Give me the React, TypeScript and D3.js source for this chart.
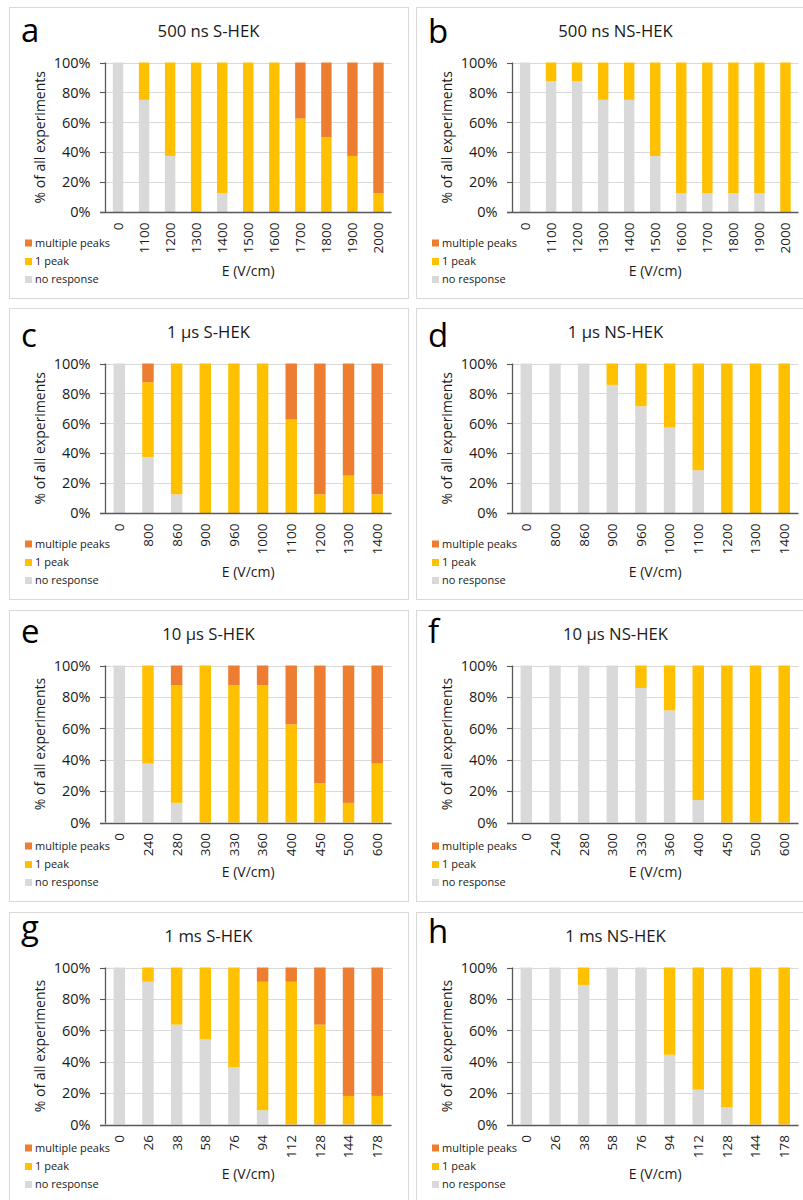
import React from "react";
import * as d3 from "d3";

// Stack order (bottom to top): no response, 1 peak, multiple peaks
const seriesKeys = ["noResponse", "onePeak", "multiplePeaks"];
const legendNames = ["multiple peaks", "1 peak", "no response"];
const legendColors = ["#ED7D31", "#FFC000", "#D9D9D9"];
const seriesColors: Record<string, string> = {
  noResponse: "#D9D9D9",
  onePeak: "#FFC000",
  multiplePeaks: "#ED7D31",
};
const yTicks = [0, 20, 40, 60, 80, 100];

// a: 500 ns S-HEK
const catsA = ["0", "1100", "1200", "1300", "1400", "1500", "1600", "1700", "1800", "1900", "2000"];
const noRespA = [100, 75, 37.5, 0, 12.5, 0, 0, 0, 0, 0, 0];
const onePeakA = [0, 25, 62.5, 100, 87.5, 100, 100, 62.5, 50, 37.5, 12.5];
const multiA = [0, 0, 0, 0, 0, 0, 0, 37.5, 50, 62.5, 87.5];

// b: 500 ns NS-HEK
const catsB = ["0", "1100", "1200", "1300", "1400", "1500", "1600", "1700", "1800", "1900", "2000"];
const noRespB = [100, 87.5, 87.5, 75, 75, 37.5, 12.5, 12.5, 12.5, 12.5, 0];
const onePeakB = [0, 12.5, 12.5, 25, 25, 62.5, 87.5, 87.5, 87.5, 87.5, 100];
const multiB = [0, 0, 0, 0, 0, 0, 0, 0, 0, 0, 0];

// c: 1 µs S-HEK
const catsC = ["0", "800", "860", "900", "960", "1000", "1100", "1200", "1300", "1400"];
const noRespC = [100, 37.5, 12.5, 0, 0, 0, 0, 0, 0, 0];
const onePeakC = [0, 50, 87.5, 100, 100, 100, 62.5, 12.5, 25, 12.5];
const multiC = [0, 12.5, 0, 0, 0, 0, 37.5, 87.5, 75, 87.5];

// d: 1 µs NS-HEK
const catsD = ["0", "800", "860", "900", "960", "1000", "1100", "1200", "1300", "1400"];
const noRespD = [100, 100, 100, 85.7, 71.4, 57.1, 28.6, 0, 0, 0];
const onePeakD = [0, 0, 0, 14.3, 28.6, 42.9, 71.4, 100, 100, 100];
const multiD = [0, 0, 0, 0, 0, 0, 0, 0, 0, 0];

// e: 10 µs S-HEK
const catsE = ["0", "240", "280", "300", "330", "360", "400", "450", "500", "600"];
const noRespE = [100, 37.5, 12.5, 0, 0, 0, 0, 0, 0, 0];
const onePeakE = [0, 62.5, 75, 100, 87.5, 87.5, 62.5, 25, 12.5, 37.5];
const multiE = [0, 0, 12.5, 0, 12.5, 12.5, 37.5, 75, 87.5, 62.5];

// f: 10 µs NS-HEK
const catsF = ["0", "240", "280", "300", "330", "360", "400", "450", "500", "600"];
const noRespF = [100, 100, 100, 100, 85.7, 71.4, 14.3, 0, 0, 0];
const onePeakF = [0, 0, 0, 0, 14.3, 28.6, 85.7, 100, 100, 100];
const multiF = [0, 0, 0, 0, 0, 0, 0, 0, 0, 0];

// g: 1 ms S-HEK
const catsG = ["0", "26", "38", "58", "76", "94", "112", "128", "144", "178"];
const noRespG = [100, 90.9, 63.6, 54.5, 36.4, 9.1, 0, 0, 0, 0];
const onePeakG = [0, 9.1, 36.4, 45.5, 63.6, 81.8, 90.9, 63.6, 18.2, 18.2];
const multiG = [0, 0, 0, 0, 0, 9.1, 9.1, 36.4, 81.8, 81.8];

// h: 1 ms NS-HEK
const catsH = ["0", "26", "38", "58", "76", "94", "112", "128", "144", "178"];
const noRespH = [100, 100, 88.9, 100, 100, 44.4, 22.2, 11.1, 0, 0];
const onePeakH = [0, 0, 11.1, 0, 0, 55.6, 77.8, 88.9, 100, 100];
const multiH = [0, 0, 0, 0, 0, 0, 0, 0, 0, 0];

type PanelDef = {
  letter: string;
  title: string;
  cats: string[];
  noResponse: number[];
  onePeak: number[];
  multiplePeaks: number[];
};

const panels: PanelDef[] = [
  { letter: "a", title: "500 ns S-HEK", cats: catsA, noResponse: noRespA, onePeak: onePeakA, multiplePeaks: multiA },
  { letter: "b", title: "500 ns NS-HEK", cats: catsB, noResponse: noRespB, onePeak: onePeakB, multiplePeaks: multiB },
  { letter: "c", title: "1 µs S-HEK", cats: catsC, noResponse: noRespC, onePeak: onePeakC, multiplePeaks: multiC },
  { letter: "d", title: "1 µs NS-HEK", cats: catsD, noResponse: noRespD, onePeak: onePeakD, multiplePeaks: multiD },
  { letter: "e", title: "10 µs S-HEK", cats: catsE, noResponse: noRespE, onePeak: onePeakE, multiplePeaks: multiE },
  { letter: "f", title: "10 µs NS-HEK", cats: catsF, noResponse: noRespF, onePeak: onePeakF, multiplePeaks: multiF },
  { letter: "g", title: "1 ms S-HEK", cats: catsG, noResponse: noRespG, onePeak: onePeakG, multiplePeaks: multiG },
  { letter: "h", title: "1 ms NS-HEK", cats: catsH, noResponse: noRespH, onePeak: onePeakH, multiplePeaks: multiH },
];

// Layout
const WIDTH = 803;
const HEIGHT = 1200;
const FONT = "'Open Sans', Lato, sans-serif";
const TEXT = "#1a1a1a";
const AXIS = "#595959";
const rowTops = [7, 308, 610, 912];
const colLefts = [9, 416];
const panelW = 399;
const panelH = 291;
const letterBaselines = [42, 42.7, 347, 346.7, 642.7, 642.7, 939, 943];
const AXIS_FONT = 14;

function ChartPanel({ def, index }: { def: PanelDef; index: number }) {
  const row = Math.floor(index / 2);
  const col = index % 2;
  const left = colLefts[col];
  const top = rowTops[row];
  const tall = row >= 2;

  const plotLeft = left + 96;
  const plotRight = left + 382.5;
  const plotTop = top + 55.5;
  const plotBottom = top + (tall ? 212.5 : 205);

  const x = d3.scaleBand<string>().domain(def.cats).range([plotLeft, plotRight]).padding(0);
  const y = d3.scaleLinear().domain([0, 100]).range([plotBottom, plotTop]);
  const barW = x.bandwidth() * 0.4;

  const rows = def.cats.map((c, i) => ({
    cat: c,
    noResponse: def.noResponse[i],
    onePeak: def.onePeak[i],
    multiplePeaks: def.multiplePeaks[i],
  }));
  const stacked = d3.stack<any>().keys(seriesKeys)(rows);

  const midY = (plotTop + plotBottom) / 2;
  const midX = (plotLeft + plotRight) / 2;
  const px = (v: number) => Math.round(v) + 0.5;

  return (
    <g>
      <rect x={left + 0.5} y={top + 0.5} width={panelW} height={panelH} fill="#fff" stroke="#D9D9D9" strokeWidth={1} />
      <text x={left + 12} y={letterBaselines[index]} fontSize={33} fill="#000" fontFamily={FONT}>
        {def.letter}
      </text>
      <text x={left + panelW / 2} y={top + 30} fontSize={16.7} fill={TEXT} textAnchor="middle" fontFamily={FONT}>
        {def.title}
      </text>
      {/* gridlines */}
      {yTicks.map((t) => (
        <line key={t} x1={plotLeft} x2={plotRight} y1={px(y(t))} y2={px(y(t))} stroke="#D9D9D9" strokeWidth={1} />
      ))}
      {/* stacked bars */}
      {stacked.map((s) => (
        <g key={s.key} fill={seriesColors[s.key]}>
          {s.map((d, i) =>
            d[1] - d[0] > 0 ? (
              <rect
                key={i}
                x={(x(rows[i].cat) as number) + x.bandwidth() / 2 - barW / 2}
                y={y(d[1])}
                width={barW}
                height={y(d[0]) - y(d[1])}
              />
            ) : null
          )}
        </g>
      ))}
      {/* axes with outside ticks on the value axis */}
      <line x1={px(plotLeft)} x2={px(plotLeft)} y1={plotTop} y2={plotBottom} stroke={AXIS} strokeWidth={1.3} />
      {yTicks.map((t) => (
        <line key={t} x1={plotLeft - 5} x2={plotLeft} y1={px(y(t))} y2={px(y(t))} stroke={AXIS} strokeWidth={1.1} />
      ))}
      <line x1={plotLeft - 5} x2={plotRight} y1={px(plotBottom)} y2={px(plotBottom)} stroke={AXIS} strokeWidth={1.3} />
      {/* y tick labels */}
      {yTicks.map((t) => (
        <text key={t} x={plotLeft - 14.5} y={y(t)} dy="0.36em" textAnchor="end" fontSize={14.5} fill={TEXT} fontFamily={FONT}>
          {t}%
        </text>
      ))}
      {/* x tick labels, rotated */}
      {def.cats.map((c) => (
        <text
          key={c}
          transform={`translate(${(x(c) as number) + x.bandwidth() / 2},${plotBottom + 10.5}) rotate(-90)`}
          textAnchor="end"
          dy="0.36em"
          fontSize={13.5}
          fill={TEXT}
          fontFamily={FONT}
        >
          {c}
        </text>
      ))}
      {/* axis titles */}
      <text
        transform={`translate(${left + 31},${midY}) rotate(-90)`}
        textAnchor="middle"
        dy="0.36em"
        fontSize={AXIS_FONT}
        fill={TEXT}
        fontFamily={FONT}
      >
        % of all experiments
      </text>
      <text x={midX} y={plotBottom + (tall ? 54.5 : 63.5)} textAnchor="middle" fontSize={AXIS_FONT} fill={TEXT} fontFamily={FONT}>
        E (V/cm)
      </text>
      {/* legend */}
      {legendNames.map((name, i) => {
        const cy = top + [236, 254.5, 272.5][i];
        return (
          <g key={name}>
            <rect x={left + 16} y={cy - 3.5} width={7} height={7} fill={legendColors[i]} />
            <text x={left + 26} y={cy} dy="0.36em" fontSize={11} fill={TEXT} fontFamily={FONT}>
              {name}
            </text>
          </g>
        );
      })}
    </g>
  );
}

export default function App() {
  return (
    <svg
      width={WIDTH}
      height={HEIGHT}
      style={{ position: "absolute", left: 0, top: 0, background: "#fff" }}
    >
      <rect x={0} y={0} width={WIDTH} height={HEIGHT} fill="#fff" />
      {panels.map((p, i) => (
        <ChartPanel key={p.letter} def={p} index={i} />
      ))}
    </svg>
  );
}
